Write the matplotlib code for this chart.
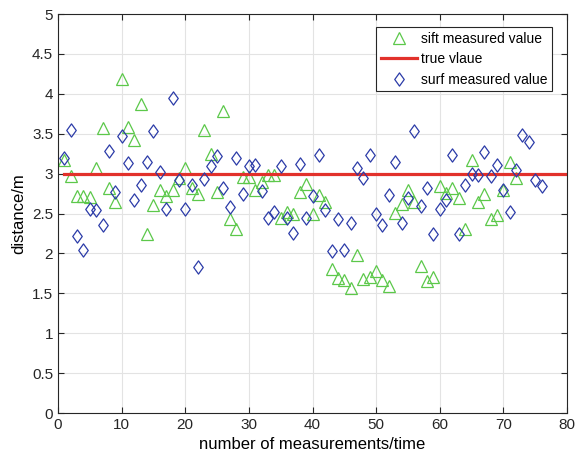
import numpy as np
import matplotlib.pyplot as plt
from matplotlib.path import Path

plt.rcParams['font.family'] = ['Liberation Sans', 'DejaVu Sans']

# sift measured value, x = 1..72
sift_y = [3.17, 2.97, 2.72, 2.72, 2.71, 3.07, 3.57, 2.82, 2.64, 4.18,
          3.58, 3.42, 3.87, 2.24, 2.61, 2.80, 2.72, 2.80, 2.94, 3.07,
          2.82, 2.75, 3.55, 3.25, 2.77, 3.78, 2.43, 2.30, 2.96, 2.96,
          2.80, 2.90, 2.98, 2.98, 2.45, 2.52, 2.50, 2.77, 2.87, 2.49,
          2.73, 2.65, 1.80, 1.69, 1.67, 1.57, 1.98, 1.68, 1.71, 1.78,
          1.67, 1.59, 2.51, 2.62, 2.80, 2.65, 1.84, 1.65, 1.71, 2.84,
          2.76, 2.82, 2.70, 2.31, 3.17, 2.64, 2.75, 2.43, 2.48, 2.79,
          3.14, 2.94]
sift_x = list(range(1, len(sift_y) + 1))

# surf measured value, x = 1..76
surf_y = [3.20, 3.55, 2.22, 2.04, 2.56, 2.55, 2.36, 3.28, 2.77, 3.47,
          3.13, 2.67, 2.86, 3.14, 3.53, 3.02, 2.56, 3.95, 2.92, 2.56,
          2.86, 1.83, 2.93, 3.10, 3.22, 2.82, 2.58, 3.19, 2.75, 3.09,
          3.11, 2.78, 2.44, 2.52, 3.09, 2.44, 2.25, 3.12, 2.45, 2.72,
          3.23, 2.54, 2.03, 2.43, 2.04, 2.38, 3.07, 2.94, 3.23, 2.50,
          2.36, 2.73, 3.15, 2.38, 2.69, 3.53, 2.59, 2.82, 2.24, 2.56,
          2.67, 3.23, 2.24, 2.86, 2.99, 2.98, 3.27, 2.97, 3.11, 2.79,
          2.52, 3.05, 3.48, 3.40, 2.92, 2.85]
surf_x = list(range(1, len(surf_y) + 1))

# true value
true_x = [1, 80]
true_y = [3, 3]

x_ticks = list(range(0, 81, 10))
y_ticks = [0, 0.5, 1, 1.5, 2, 2.5, 3, 3.5, 4, 4.5, 5]
y_tick_labels = ['0', '0.5', '1', '1.5', '2', '2.5', '3', '3.5', '4', '4.5', '5']

# matlab-like diamond: taller than wide
diamond = Path([(0, 1), (0.72, 0), (0, -1), (-0.72, 0), (0, 1)],
               [Path.MOVETO, Path.LINETO, Path.LINETO, Path.LINETO, Path.CLOSEPOLY])

fig = plt.figure(figsize=(5.77, 4.69), dpi=100)
ax = fig.add_axes([0.1005, 0.1194, 0.8822, 0.8507])

ax.plot(sift_x, sift_y, linestyle='none', marker='^', markersize=8.5,
        markerfacecolor='none', markeredgecolor='#5CC84A', markeredgewidth=0.9,
        label='sift measured value')
ax.plot(true_x, true_y, color='#E2312B', linewidth=2.3, label='true vlaue')
ax.plot(surf_x, surf_y, linestyle='none', marker=diamond, markersize=9.5,
        markerfacecolor='none', markeredgecolor='#2B3BA8', markeredgewidth=0.9,
        label='surf measured value')

ax.set_xlim(0, 80)
ax.set_ylim(0, 5)
ax.set_xticks(x_ticks)
ax.set_yticks(y_ticks)
ax.set_yticklabels(y_tick_labels)
ax.tick_params(direction='in', top=True, right=True, labelsize=11,
               length=4, width=0.8, colors='#262626')
ax.grid(True, color='#E3E3E3', linewidth=0.8)
ax.set_axisbelow(True)
for s in ax.spines.values():
    s.set_color('#262626')
    s.set_linewidth(0.8)

ax.set_xlabel('number of measurements/time', fontsize=12)
ax.set_ylabel('distance/m', fontsize=12)

leg = ax.legend(loc='upper right', bbox_to_anchor=(0.971, 0.967), borderaxespad=0,
                fontsize=10, fancybox=False, framealpha=1, edgecolor='#262626',
                borderpad=0.35, labelspacing=0.45, handlelength=2.6,
                handletextpad=0.3)
leg.get_frame().set_linewidth(0.8)

fig.savefig('out.png', dpi=100)
